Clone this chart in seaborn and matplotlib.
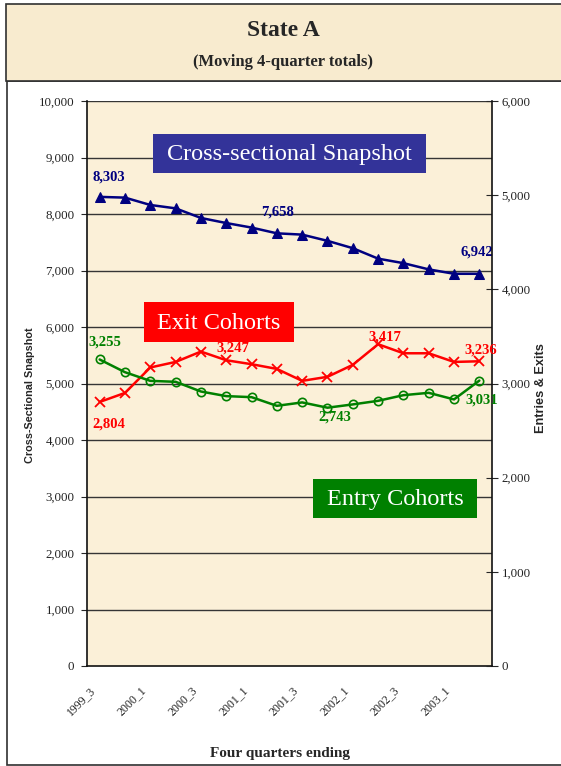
import numpy as np
import pandas as pd
import seaborn as sns
import matplotlib.pyplot as plt
import matplotlib.transforms as mtransforms
from matplotlib.patches import Rectangle
from matplotlib.ticker import FuncFormatter

# quarters (four quarters ending)
quarters = ["1999_3", "1999_4", "2000_1", "2000_2", "2000_3", "2000_4",
            "2001_1", "2001_2", "2001_3", "2001_4", "2002_1", "2002_2",
            "2002_3", "2002_4", "2003_1", "2003_2"]
snapshot = [8303, 8290, 8160, 8100, 7930, 7840, 7760, 7658,
            7635, 7525, 7395, 7210, 7130, 7020, 6942, 6942]
exits = [2804, 2900, 3170, 3229, 3339, 3247, 3205, 3155,
         3028, 3071, 3198, 3417, 3321, 3321, 3229, 3236]
entries = [3255, 3120, 3028, 3018, 2915, 2866, 2855, 2763,
           2799, 2743, 2778, 2816, 2876, 2901, 2831, 3031]

df = pd.DataFrame({"q": np.arange(len(quarters)), "snap": snapshot,
                   "exits": exits, "entries": entries})

sns.set_style("white")
plt.rcParams["font.family"] = ["Liberation Serif", "DejaVu Serif"]

W, H = 561, 766
fig = plt.figure(figsize=(W / 100, H / 100), dpi=100)

def fx(px):
    return px / W

def fy(py):
    return 1 - py / H

# outer frame and title box
fig.patches.append(Rectangle((fx(7), fy(765)), fx(560), fy(81) - fy(765),
                             transform=fig.transFigure, fc="white",
                             ec="#303030", lw=1.2, zorder=-10))
fig.patches.append(Rectangle((fx(6), fy(81)), fx(560), fy(4) - fy(81),
                             transform=fig.transFigure, fc="#F8EBCF",
                             ec="#303030", lw=1.2, zorder=-9))
fig.text(fx(283), fy(31), "State A", ha="center", va="center",
         fontsize=17, fontweight="bold")
fig.text(fx(283), fy(62), "(Moving 4-quarter totals)", ha="center",
         va="center", fontsize=12, fontweight="bold")

ax = fig.add_axes([fx(87), fy(666), fx(492 - 87), fy(101) - fy(666)])
ax.set_facecolor("#FBF0D8")
ax2 = ax.twinx()
ax.set_zorder(1)
ax2.set_zorder(2)

ax.set_ylim(0, 10000)
ax2.set_ylim(0, 6000)
ax.set_xlim(-0.5, 15.5)
ax.set_yticks(np.arange(0, 10001, 1000))
ax2.set_yticks(np.arange(0, 6001, 1000))
fmt = FuncFormatter(lambda v, p: f"{int(v):,}")
ax.yaxis.set_major_formatter(fmt)
ax2.yaxis.set_major_formatter(fmt)

for v in range(1000, 10001, 1000):
    ax.axhline(v, color="#353535", lw=1.0, zorder=0.5)

sns.lineplot(data=df, x="q", y="snap", ax=ax, color="#000080", lw=1.8,
             marker="^", markersize=7, markeredgecolor="#000080")
sns.lineplot(data=df, x="q", y="exits", ax=ax2, color="#FF0000", lw=1.8,
             marker="x", markersize=7, markeredgewidth=1.3,
             markeredgecolor="#FF0000")
sns.lineplot(data=df, x="q", y="entries", ax=ax2, color="#008000", lw=1.8,
             marker="o", markersize=6, markerfacecolor="none",
             markeredgewidth=1.2, markeredgecolor="#008000")

# x axis: ticks between categories, labels every other quarter
ax.set_xticks(np.arange(-0.5, 16, 1))
ax.set_xticklabels([])
ax.set_xticks(np.arange(0, 16, 2), minor=True)
ax.set_xticklabels(quarters[::2], minor=True, rotation=45, ha="right",
                   rotation_mode="anchor", fontsize=8.5, color="#222222")
ax.tick_params(axis="x", which="minor", length=0, pad=13)
ax.tick_params(axis="x", which="major", direction="out", length=4,
               color="#222222")
shift = mtransforms.ScaledTranslation(-10 / 100, 0, fig.dpi_scale_trans)
for t in ax.get_xticklabels(minor=True):
    t.set_transform(t.get_transform() + shift)
ax.tick_params(axis="y", direction="out", length=4, labelsize=9.3,
               labelcolor="#222222", pad=5)
ax2.tick_params(axis="y", direction="inout", length=8, labelsize=9.3,
                labelcolor="#222222", pad=3)

for a in (ax, ax2):
    a.set_xlabel("")
    a.set_ylabel("")
    for s in a.spines.values():
        s.set_visible(False)
ax.spines["left"].set_visible(True)
ax.spines["bottom"].set_visible(True)
ax2.spines["right"].set_visible(True)
for s in (ax.spines["left"], ax.spines["bottom"], ax2.spines["right"]):
    s.set_color("#111111")
    s.set_linewidth(1.2)

fig.text(fx(30), fy(395), "Cross-Sectional Snapshot", rotation=90,
         ha="center", va="center", fontsize=7.8, fontweight="bold",
         family=["Liberation Sans", "DejaVu Sans"])
fig.text(fx(541), fy(388), "Entries & Exits", rotation=90,
         ha="center", va="center", fontsize=9.2, fontweight="bold",
         family=["Liberation Sans", "DejaVu Sans"])
fig.text(fx(280), fy(754), "Four quarters ending", ha="center",
         va="center", fontsize=11, fontweight="bold")

# data labels (offsets in pixels, screen-down positive)
def lab(a, i, vals, dx, dy, color):
    a.annotate(f"{vals[i]:,}", (i, vals[i]), xytext=(dx * 0.72, -dy * 0.72),
               textcoords="offset points", ha="center", va="center",
               fontsize=10.5, fontweight="bold", color=color)

lab(ax, 0, snapshot, 9, -20, "#000080")
lab(ax, 7, snapshot, 1, -21, "#000080")
lab(ax, 15, snapshot, -2, -22, "#000080")
lab(ax2, 0, exits, 9, 22, "#FF0000")
lab(ax2, 5, exits, 7, -12, "#FF0000")
lab(ax2, 11, exits, 7, -7, "#FF0000")
lab(ax2, 15, exits, 1, -11, "#FF0000")
lab(ax2, 0, entries, 5, -17, "#008000")
lab(ax2, 9, entries, 7, 9, "#008000")
lab(ax2, 15, entries, 2, 19, "#008000")

# series name boxes
def namebox(x0, y0, x1, y1, text, color):
    fig.patches.append(Rectangle((fx(x0), fy(y1)), fx(x1 - x0),
                                 fy(y0) - fy(y1), transform=fig.transFigure,
                                 fc=color, ec="none", zorder=5))
    fig.text(fx((x0 + x1) / 2), fy((y0 + y1) / 2 + 1), text, ha="center",
             va="center", fontsize=17.5, color="white", zorder=6)

namebox(153, 134, 426, 173, "Cross-sectional Snapshot", "#333399")
namebox(144, 302, 294, 342, "Exit Cohorts", "#FF0000")
namebox(313, 479, 477, 518, "Entry Cohorts", "#008000")

fig.savefig("out.png", dpi=100)
